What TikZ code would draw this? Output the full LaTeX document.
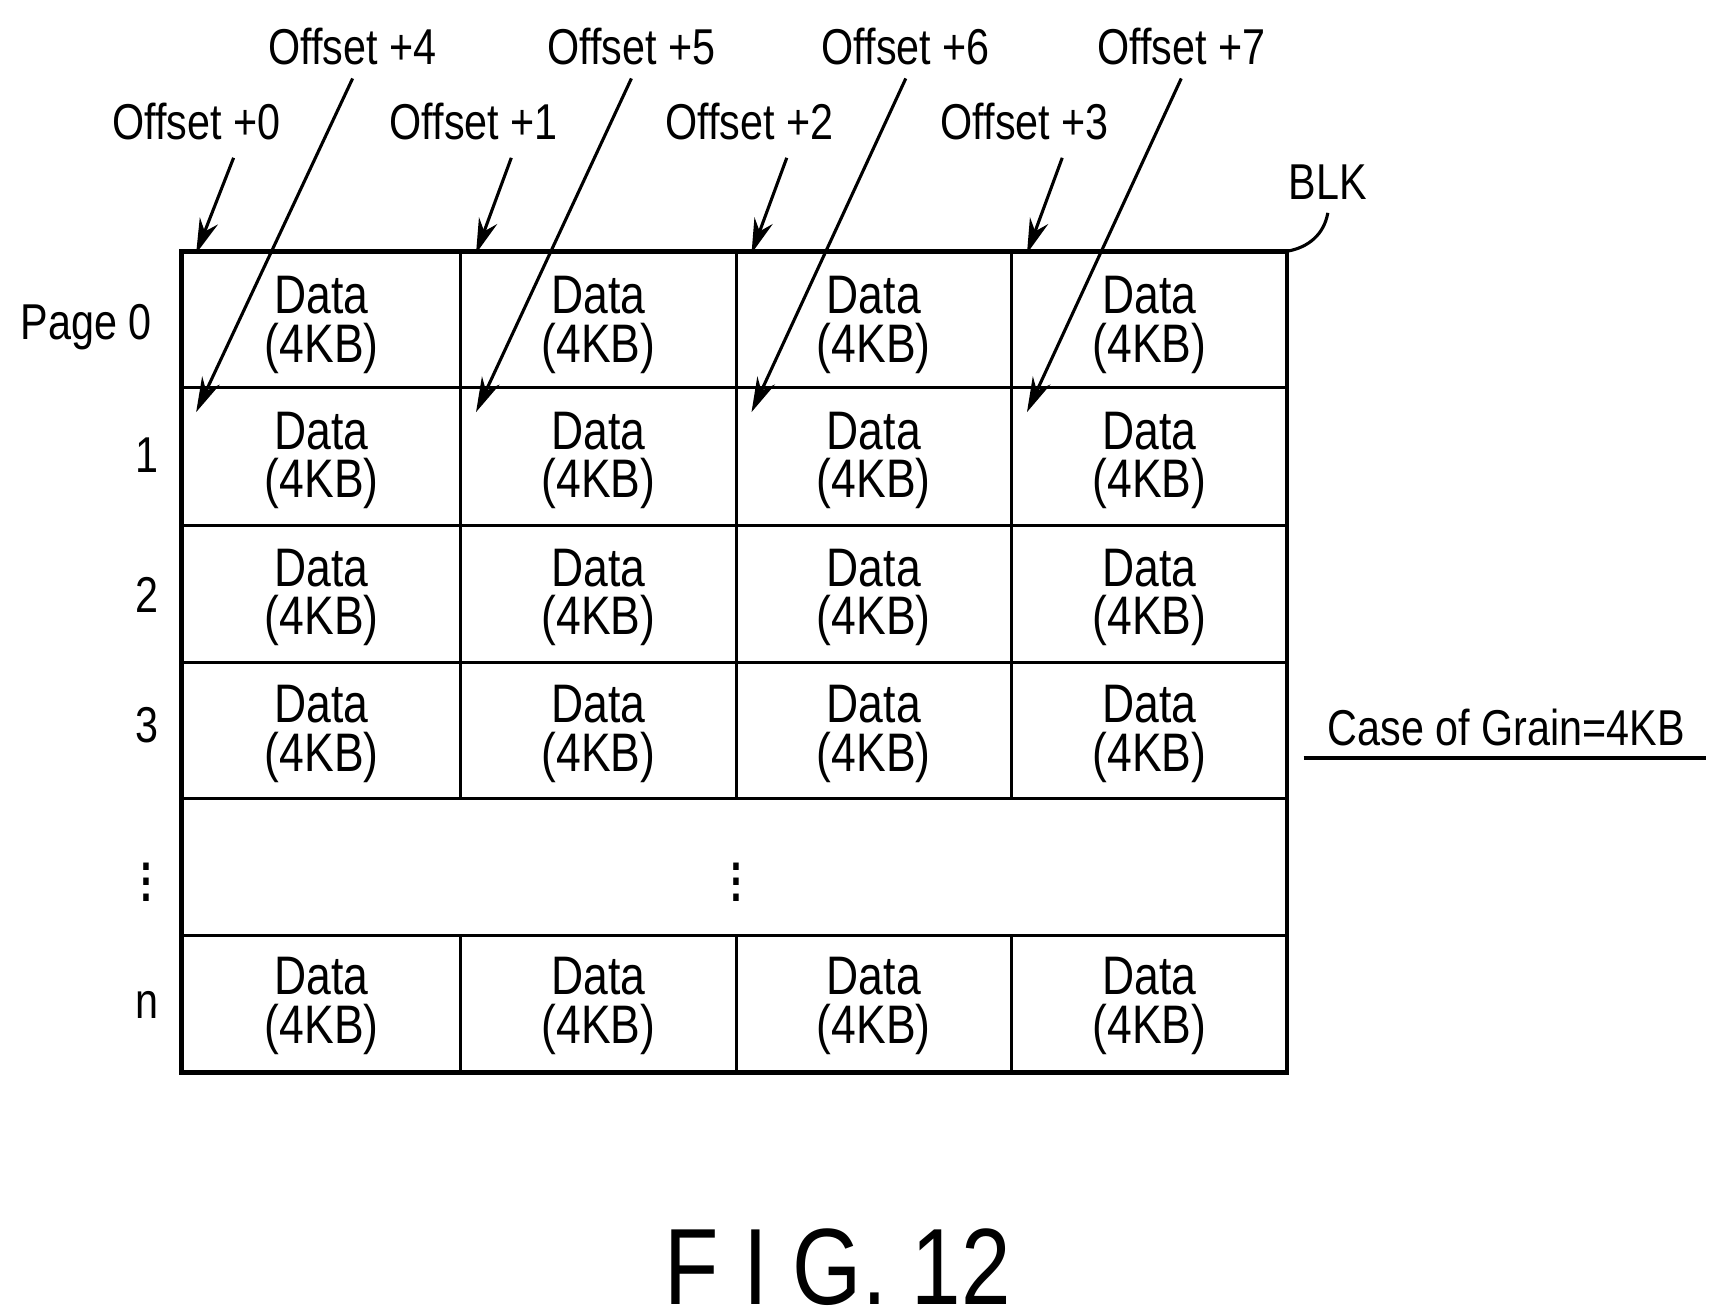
\documentclass[tikz,border=0pt]{standalone}
\usepackage{fontspec}
\setmainfont{Liberation Sans}
\usetikzlibrary{arrows.meta,positioning,calc}
\begin{document}
\begin{tikzpicture}[x=0.01cm,y=-0.01cm,
  every node/.style={font=\fontsize{13}{13}\selectfont,xscale=0.82},
  cell/.style={align=center,inner sep=0pt,font=\fontsize{14}{12.5}\selectfont},
  ofs/.style={-{Stealth[length=9pt,width=5pt]},thick}]
\useasboundingbox (0,0) rectangle (1560,1193);

% grid
\draw[very thick] (165,228) rectangle (1168,973);
\foreach \y in {352,477,601,725,849} \draw[thick] (165,\y) -- (1168,\y);
\foreach \x in {418,668,918} {
  \draw[thick] (\x,228) -- (\x,725);
  \draw[thick] (\x,849) -- (\x,973);
}

% cells
\foreach \c/\x in {0/292,1/543,2/793,3/1043} {
  \foreach \r/\y in {0/295,1/418,2/542,3/666,n/913}
    \node[cell] (d\r\c) at (\x,\y) {Data\\(4KB)};
}
\node (mdots) at (668,790) {\fontsize{18}{18}\selectfont$\vdots$};

% page labels
\node[anchor=east] (p0) at (148,297) {Page 0};
\foreach \r/\y in {1/413,2/540,3/658,n/912}
  \node (p\r) at (133,\y) {\r};
\node (pdots) at (133,790) {\fontsize{18}{18}\selectfont$\vdots$};

% offsets
\foreach \i/\x/\cx in {0/178/178,1/430/432,2/680/682,3/930/932} {
  \node (o\i) at (\x,110) {Offset +\i};
  \coordinate (t\i) at (\cx,230);
  \draw[ofs] ($(o\i.south)+(34,4)$) -- (t\i);
}
\foreach \i/\x/\cx in {4/320/178,5/573/432,6/822/682,7/1072/932} {
  \node (o\i) at (\x,42) {Offset +\i};
  \coordinate (t\i) at (\cx,374);
  \draw[ofs] (o\i.south) -- (t\i);
}

% block label
\node (blk) at (1205,165) {BLK};
\draw[thick] (blk.south) to[out=-100,in=10] (1168,228);

\node (grain) at (1367,660) {Case of Grain=4KB};
\draw[very thick] (1183,688) -- (1548,688);

\node (fig) at (760,1150) {\fontsize{28}{28}\selectfont F I G. 12};
\end{tikzpicture}
\end{document}
